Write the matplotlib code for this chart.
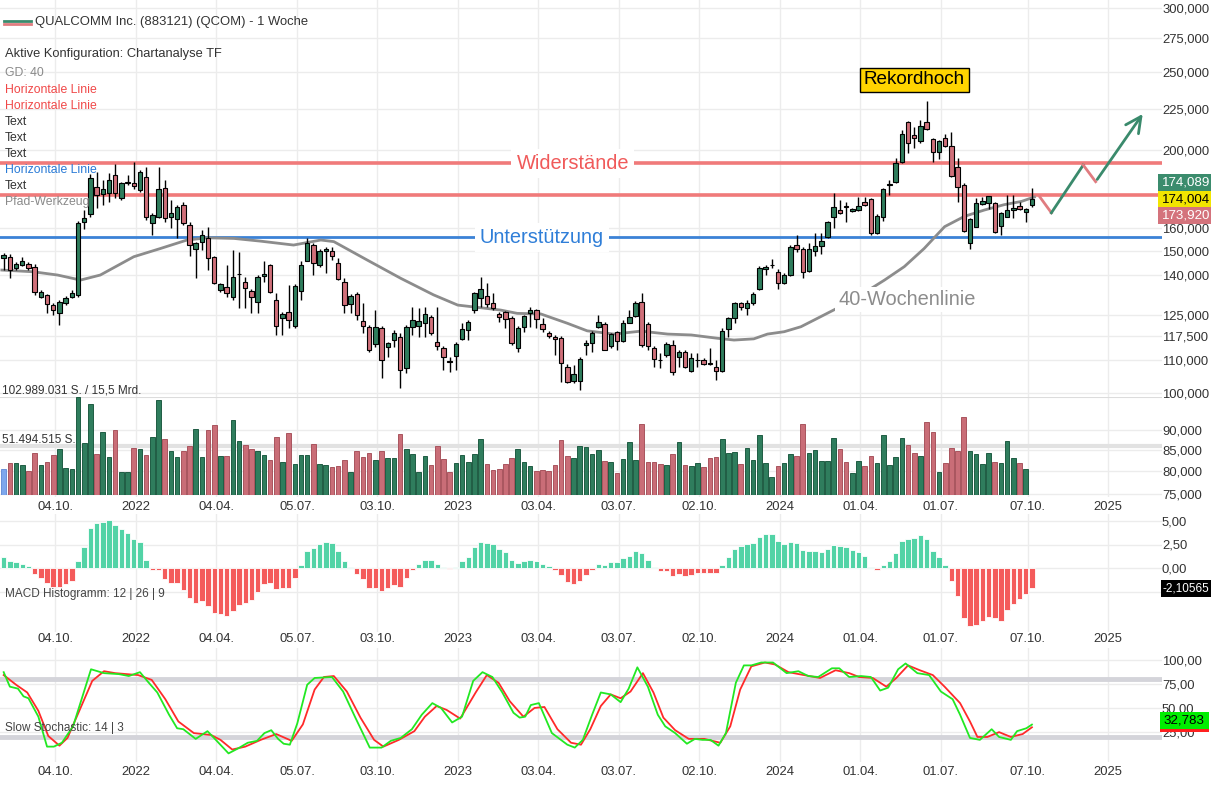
import numpy as np
import matplotlib
matplotlib.use("Agg")
import matplotlib.pyplot as plt
import matplotlib.dates as mdates
from matplotlib.patches import Rectangle
from matplotlib.lines import Line2D
from datetime import date, timedelta

plt.rcParams['font.family'] = ['Liberation Sans', 'DejaVu Sans']

# ---------------- DATA ----------------
first_week = date(2021, 8, 7)          # position of first weekly candle
opens = [146.9,147.4,142.7,144.1,144.5,143.4,131.4,132.3,128.5,125.6,129.2,131.6,132.3,163.0,166.6,180.1,176.4,177.0,186.2,174.5,
         182.0,182.2,178.4,185.1,162.3,165.2,179.3,165.2,164.2,171.0,161.5,150.7,154.0,155.5,147.3,134.1,135.2,131.6,140.3,137.4,
         133.8,129.8,139.6,144.0,130.4,123.8,125.9,121.0,133.8,145.9,152.6,144.0,150.0,150.1,144.8,137.1,128.9,132.5,122.9,120.8,
         114.9,120.3,113.9,116.3,117.4,107.3,120.6,121.0,122.0,124.1,115.5,113.6,109.6,111.2,116.5,119.7,126.7,131.0,131.9,129.1,
         125.2,125.9,123.7,113.6,120.8,125.7,126.7,121.6,118.6,117.4,116.9,107.8,103.6,103.6,114.7,115.2,120.8,121.8,114.4,118.9,
         116.1,122.2,124.5,129.7,121.6,113.6,110.0,111.4,114.6,110.9,112.5,106.6,109.8,109.9,108.9,107.6,106.6,119.9,123.7,129.1,
         127.3,129.1,134.4,142.5,144.0,141.3,136.7,140.0,152.4,150.7,141.6,150.1,152.1,156.2,165.0,168.4,170.3,167.9,168.4,172.2,
         173.7,157.9,165.0,181.2,182.6,193.2,216.7,208.7,204.9,216.7,206.2,198.8,206.7,202.2,190.4,181.0,153.2,160.5,171.3,171.8,
         171.8,161.0,165.4,168.5,170.6,167.4,171.0]
highs = [149.0,148.5,145.2,147.4,145.5,144.5,134.0,132.8,129.2,130.5,132.0,134.0,163.5,168.5,187.0,188.0,183.6,187.1,192.2,182.5,
         186.2,193.4,189.0,190.7,167.0,190.7,183.6,173.4,171.0,172.6,163.0,154.0,159.2,160.7,147.8,137.0,144.1,150.4,149.7,139.3,
         134.5,140.0,145.6,144.5,132.9,126.1,136.1,136.5,145.6,155.5,153.2,150.8,151.7,151.7,146.9,138.7,132.5,133.5,129.1,121.5,
         126.7,121.0,115.8,119.7,118.5,121.5,127.9,127.3,127.9,124.8,127.9,114.2,110.9,115.5,122.2,123.1,133.5,139.3,136.7,132.9,
         126.1,126.5,124.5,121.0,125.0,127.9,127.2,123.7,119.2,118.0,117.5,108.6,108.3,110.9,116.3,119.2,124.9,122.3,118.8,119.5,
         123.1,126.7,130.0,132.9,122.3,114.2,112.2,115.8,116.3,113.0,113.0,112.0,112.2,110.5,113.6,109.9,120.3,124.3,129.8,129.7,
         130.4,133.5,143.5,144.1,146.4,142.5,141.0,152.6,157.0,151.5,153.2,157.7,157.7,163.5,176.8,173.4,172.6,169.4,175.0,175.0,
         174.5,166.5,179.5,183.6,195.4,211.7,217.5,213.8,217.8,230.0,207.0,206.0,209.6,210.8,195.4,181.9,164.6,174.3,175.0,175.5,
         172.5,167.5,175.9,175.9,172.6,169.6,179.2]
lows = [142.0,138.7,142.0,143.5,142.0,132.3,131.0,125.5,124.9,121.4,128.5,131.0,131.5,159.6,165.0,169.4,171.0,172.3,174.5,173.4,
        181.0,179.1,177.5,163.8,157.0,164.6,163.0,160.0,155.5,161.5,147.6,138.7,150.4,142.0,136.5,133.5,131.6,130.4,127.3,127.3,
        125.5,125.5,137.4,132.9,118.0,118.0,120.3,120.3,130.4,145.6,140.0,143.4,140.8,146.1,138.0,125.5,125.5,123.1,118.5,112.5,
        114.1,104.3,110.9,114.1,101.5,105.8,118.0,117.4,117.4,118.0,113.0,106.8,106.3,106.8,116.3,116.3,125.5,127.9,127.9,126.7,
        122.3,120.3,114.7,112.5,119.1,120.8,120.3,119.1,116.9,111.4,103.3,102.8,102.8,100.9,111.4,112.5,120.3,113.0,113.6,113.0,
        115.7,122.0,124.3,114.0,113.0,107.8,107.3,110.9,105.3,107.8,107.3,106.3,107.8,108.3,108.3,103.8,106.3,117.4,122.2,126.7,
        124.9,128.5,134.1,140.0,142.7,134.4,136.5,139.5,149.7,138.7,141.3,147.6,148.7,155.5,160.0,166.6,163.0,167.4,168.0,170.3,
        157.0,157.5,163.3,175.9,182.2,192.8,198.1,201.0,204.1,211.7,193.2,195.0,201.8,185.4,172.6,158.1,150.7,160.5,171.0,169.0,
        158.0,157.0,165.0,164.6,168.5,163.0,170.0]
closes = [148.3,142.0,144.5,145.6,142.7,133.5,133.3,128.9,126.7,129.8,131.0,132.9,162.3,164.6,184.5,175.9,178.8,183.6,177.0,181.9,
          182.3,180.5,188.0,165.0,166.2,178.8,164.6,167.0,170.2,162.3,152.6,153.2,157.0,146.9,136.7,136.4,132.9,139.1,140.6,135.0,
          131.4,139.3,140.6,133.5,121.0,125.1,123.3,135.7,144.1,153.2,144.8,150.1,150.7,147.6,138.3,128.5,131.9,124.9,121.0,113.0,
          120.6,109.9,115.2,118.8,106.8,120.8,123.3,122.9,125.2,118.8,114.4,110.7,109.3,115.0,119.9,122.3,132.9,134.5,128.8,127.6,
          124.1,123.5,115.2,120.3,124.5,126.7,123.4,119.9,117.7,116.6,108.9,103.3,105.5,110.1,115.2,118.8,122.3,113.2,118.2,116.0,
          122.0,124.1,129.1,114.7,114.4,110.1,109.8,114.9,106.2,112.5,107.6,110.6,110.0,108.6,108.6,106.5,119.3,123.7,129.1,127.9,
          129.1,132.6,142.7,143.4,144.1,136.7,140.0,151.6,150.7,141.3,150.7,152.1,154.4,162.8,169.9,167.1,170.0,169.0,170.6,171.0,
          157.7,165.8,178.8,181.6,192.9,209.6,204.1,206.7,214.3,212.3,198.8,205.4,202.2,185.9,179.8,158.6,164.1,171.8,172.9,175.3,
          158.3,167.0,168.5,169.6,169.0,169.2,174.09]
volume_mio = [27.0,33.3,33.3,31.5,25.5,44.5,31.5,35.0,42.0,48.3,28.0,27.0,103.0,54.3,95.6,43.0,66.5,40.3,68.3,24.5,
              24.5,49.0,48.3,42.0,60.6,99.8,58.9,46.6,39.6,46.6,51.5,69.4,40.3,68.3,73.6,41.0,41.0,78.8,57.0,52.5,
              48.3,46.6,42.0,36.8,61.3,35.0,65.5,32.6,42.0,42.0,53.6,32.2,31.5,29.0,30.5,36.8,24.5,46.2,40.3,43.8,
              36.8,46.2,38.5,39.2,63.7,48.0,42.8,24.0,40.7,31.3,51.5,37.6,24.0,33.7,41.7,34.8,42.8,58.8,32.7,26.4,
              27.8,32.4,38.6,48.7,34.4,31.0,25.7,26.4,25.7,31.3,58.1,40.7,39.3,51.5,50.1,42.8,47.0,35.8,34.8,22.6,
              38.3,55.7,36.5,74.1,34.4,34.4,33.1,31.3,42.8,55.7,32.0,30.3,33.7,28.9,39.3,40.0,59.1,44.5,45.2,32.4,
              49.1,36.5,62.6,34.1,18.8,30.3,33.4,43.5,40.7,74.4,44.5,47.7,36.2,36.2,59.8,48.7,34.4,23.0,36.2,30.6,
              40.7,34.1,63.0,31.3,39.7,60.2,52.9,44.2,41.1,76.2,65.8,24.0,33.4,49.1,45.9,82.4,45.9,43.1,33.1,44.2,
              34.8,34.1,56.7,39.3,34.1,26.8]
macd_hist = [1.15,0.73,0.63,0.42,0.2,-0.6,-1.04,-1.63,-1.98,-1.98,-1.74,-1.39,0.73,2.19,4.27,4.79,4.9,5.07,4.62,4.17,
             3.75,3.06,2.78,0.9,-0.17,-0.17,-1.2,-1.63,-1.63,-2.33,-3.2,-3.72,-3.47,-4.06,-4.76,-4.93,-5.1,-4.58,-3.96,-3.72,
             -3.37,-2.6,-1.74,-1.63,-2.22,-2.15,-2.08,-1.04,0.28,1.77,2.08,2.6,2.81,2.7,1.84,0.73,0.14,-0.59,-1.22,-2.08,
             -2.08,-2.43,-2.15,-1.8,-1.98,-1.04,-0.2,0.42,0.9,0.8,0.45,0.1,-0.1,0.14,0.7,1.15,2.19,2.78,2.71,2.53,
             2.01,1.74,0.8,0.56,0.7,0.9,0.73,0.42,0.17,-0.17,-0.7,-1.46,-1.74,-1.39,-0.76,-0.17,0.45,0.35,0.63,0.63,
             1.04,1.32,1.84,1.6,0.83,0.1,-0.35,-0.28,-0.83,-0.63,-0.83,-0.7,-0.49,-0.49,-0.49,-0.49,0.28,1.15,2.01,2.29,
             2.53,2.71,3.3,3.58,3.65,2.88,2.53,2.78,2.71,1.94,1.84,1.77,1.67,2.01,2.5,2.36,2.26,1.94,1.74,1.32,
             0.1,-0.24,0.28,0.73,1.56,2.88,3.13,3.23,3.47,3.13,1.77,1.15,0.31,-1.39,-3.02,-5.28,-6.15,-6.08,-5.69,-5.2,
             -5.28,-5.69,-4.51,-3.82,-3.26,-2.78,-2.11]
# 40-week moving average, read at points (candle index, value)
sma_idx = [-0.3,4.8,8.7,12.4,15.6,21,25.3,29.6,32.9,37.2,41.5,46.8,51.2,53.3,58.7,64.1,69.4,73.3,80.2,82.9,86.7,91,94.2,
           98.5,102.9,107.2,111,115.2,117.9,121.1,123.3,126,128.7,130.8,134.6,138.4,142.2,145.4,148.6,151.9,155.1,158.3,161.5,164.3,166.4]
sma_val = [142,141.3,140.0,138.0,140,147.5,151,154.7,155.7,155.4,154.2,152.5,154.7,154,146.1,138.7,132.3,128.5,126.7,125.5,125.3,122,119.4,
           118.3,119.3,118.3,118,116.9,116.3,116.7,118.3,119.1,120.8,123.1,127.4,132.3,138,143.4,151,160.7,165.5,168.5,171.1,172.7,174.9]
# slow stochastic, read at points (candle index, value)
stk_idx = [0,1,2.3,3.2,4,5.6,7,8.1,9.4,11.2,14.1,16.2,18.6,20.2,22,23.3,24.8,26.7,28,29,31,32.9,34.1,36.3,37.8,39.4,40.9,42.1,43.2,
           44.3,45.2,46.2,47.4,49,50.2,53,54.8,56.7,59.1,61,62.5,64.1,65.9,67.5,69.2,70.6,72.4,74,75.8,77.3,78.9,80.5,82.3,83.3,84.2,
           85.1,86.4,88.5,91,92.2,93.5,95,96.4,98,99.6,100.9,102.3,104,105.6,106.8,108.4,110.3,111.6,112.8,114.1,115.4,116.6,118.2,
           119.5,120.7,122.3,124.2,126.4,128.3,129.9,131.5,133.7,134.9,136.5,138.4,140,141.5,142.8,144.4,145.6,147.5,149.4,151.3,
           153.2,154.4,156,157.6,159.5,160.7,162.6,163.6,165.1,166]
stk_val = [87,72,70,62,60,41,10,10,14,31,90,86,85,83,87,77,66,43,29,28,18,26,18,3,8,14,16,24,27,
           18,13,12,34,74,81,82,67,41,9,9,16,19,28,43,55,50,35,41,78,87,82,66,45,40,41,
           53,55,24,12,9,17,43,66,64,56,70,92,72,43,31,24,13,18,17,17,11,24,76,
           94,94,97,97,86,88,83,82,91,91,82,83,82,68,71,90,96,86,84,67,
           59,43,19,17,28,20,17,26,29,32.8]
std_idx = [0,2,3.8,5.6,7.2,9,10.3,11.8,14.3,16.2,18,21.7,23.9,26.1,28.2,30.7,33.5,35,36.9,39,41.5,44,46.5,48.3,50.2,51.7,
           53.3,55.4,57.6,59.8,61.3,63.8,66.3,68,69.9,71.5,73.7,76.2,78,79.9,81.7,83.9,85.7,87.3,89.4,91.6,93.2,94.7,96.4,98,
           99.6,101.2,103.2,104.9,106.5,108.4,110.6,113.1,115.7,117.3,118.9,120.7,122.9,124.5,126.7,129.2,131.8,134.3,136.5,138.1,
           140.3,142.5,144.1,146,147.9,150,151.9,154.4,156,157.2,158.8,160.7,162.6,164.5,166]
std_val = [84,74,66,47,21,11,19,41,78,88,86,84,79,59,36,24,22,17,7,10,17,23,16,33,69,82,
           83,67,40,17,10,17,26,41,52,48,39,66,84,76,57,41,50,51,28,14,12,28,52,64,
           60,67,86,66,40,27,18,18,14,31,69,93,97,95,87,84,81,89,86,82,
           81,72,81,94,89,84,72,55,36,20,20,25,20,23,30]
# drawn path (Pfad-Werkzeug)
path_dates = [date(2024, 10, 21), date(2024, 11, 3), date(2024, 12, 9), date(2024, 12, 23), date(2025, 2, 16)]
path_prices = [174.9, 167.2, 191.6, 182.7, 223.1]
resistances = [192.6, 175.9]
support = 155.9
tick_dates = [date(2021,10,4), date(2022,1,3), date(2022,4,4), date(2022,7,5), date(2022,10,3), date(2023,1,2),
              date(2023,4,3), date(2023,7,3), date(2023,10,2), date(2024,1,1), date(2024,4,1), date(2024,7,1),
              date(2024,10,7), date(2025,1,6)]
tick_labels = ['04.10.', '2022', '04.04.', '05.07.', '03.10.', '2023', '03.04.', '03.07.', '02.10.', '2024',
               '01.04.', '01.07.', '07.10.', '2025']
price_ticks = [75, 80, 85, 90, 100, 110, 117.5, 125, 140, 150, 160, 200, 225, 250, 275, 300]
macd_ticks = [-2.5, 0, 2.5, 5.0]
stoch_ticks = [25, 50, 75, 100]
vol_max = 102.989031

# ---------------- FIGURE ----------------
W, H = 1211, 786
fig = plt.figure(figsize=(W / 100, H / 100), dpi=100)
fig.patch.set_facecolor('white')

def ax_at(left, top, right, bottom):
    return fig.add_axes([left / W, 1 - bottom / H, (right - left) / W, (bottom - top) / H])

def fx(x):
    return x / W

def fy(y):
    return 1 - y / H

n = len(closes)
dn = np.array([mdates.date2num(first_week + timedelta(days=7 * i)) for i in range(n)])
d_origin = mdates.date2num(first_week)
ppd = (1027.5 - 55) / (date(2024, 10, 7) - date(2021, 10, 4)).days
x_anchor = mdates.date2num(date(2021, 10, 4))
xlim = (x_anchor - 55 / ppd, x_anchor + (1162 - 55) / ppd)
tnum = [mdates.date2num(t) for t in tick_dates]

TXT = '#333333'
GRID = '#ececec'
FS = 9.4

def style(ax, labels, yticks, label_pad):
    ax.set_xlim(*xlim)
    for s in ax.spines.values():
        s.set_visible(False)
    ax.set_xticks(tnum)
    ax.set_xticklabels(tick_labels)
    ax.tick_params(axis='x', length=0, pad=label_pad, labelsize=FS, colors=TXT)
    ax.yaxis.tick_right()
    ax.set_yticks(yticks)
    ax.set_yticklabels(labels)
    ax.minorticks_off()
    ax.tick_params(axis='y', length=0, pad=0, labelsize=FS, colors=TXT)
    ax.grid(True, color=GRID, lw=1)
    ax.set_axisbelow(True)

# ---- price panel ----
ax = ax_at(0, 0, 1162, 497)
ax.set_yscale('log')
ax.set_ylim(100 * np.exp(-104 / 350.6), 100 * np.exp(393 / 350.6))
style(ax, [f"{v:.3f}".replace('.', ',') for v in price_ticks], price_ticks, 3)

o = np.array(opens); c = np.array(closes); hi = np.array(highs); lo = np.array(lows)
up = c >= o
GREEN = '#2f7d5d'
RED = '#d0707a'
ax.vlines(dn, lo, hi, color='black', lw=1, zorder=3)
bottoms = np.minimum(o, c)
heights = np.maximum(np.abs(c - o), 0.15)
ax.bar(dn, heights, bottom=bottoms, width=5.0, color=np.where(up, GREEN, RED),
       edgecolor='black', lw=0.8, zorder=4)

sma_d = d_origin + 7 * np.array(sma_idx)
ax.plot(sma_d, sma_val, color='#8c8c8c', lw=2, zorder=2.5)

for r in resistances:
    ax.axhline(r, color='#f07a7a', lw=2.6, zorder=2)
ax.axhline(support, color='#3b82d6', lw=2, zorder=2)

pd_ = [mdates.date2num(d) for d in path_dates]
ax.plot(pd_[0:2], path_prices[0:2], color='#e07c80', lw=2, zorder=5)
ax.plot(pd_[1:3], path_prices[1:3], color='#3a8a6c', lw=2, zorder=5)
ax.plot(pd_[2:4], path_prices[2:4], color='#e07c80', lw=2, zorder=5)
ax.annotate('', xy=(pd_[4], path_prices[4]), xytext=(pd_[3], path_prices[3]),
            arrowprops=dict(arrowstyle='->', color='#3a8a6c', lw=2, mutation_scale=28), zorder=5)

ax.text(mdates.date2num(date(2023, 5, 12)), resistances[0], 'Widerstände', color='#f05a5a', fontsize=14.4,
        ha='center', va='center', zorder=6,
        bbox=dict(boxstyle='square,pad=0.25', fc='white', ec='none'))
ax.text(mdates.date2num(date(2023, 4, 7)), support, 'Unterstützung', color='#2f7ed8', fontsize=14.4,
        ha='center', va='center', zorder=6,
        bbox=dict(boxstyle='square,pad=0.25', fc='white', ec='none'))
ax.text(mdates.date2num(date(2024, 5, 24)), 130.7, '40-Wochenlinie', color='#8c8c8c', fontsize=14.4,
        ha='center', va='center', zorder=6,
        bbox=dict(boxstyle='square,pad=0.15', fc='white', ec='none'))
ax.text(mdates.date2num(date(2024, 6, 1)), 244.2, 'Rekordhoch', color='black', fontsize=13.6,
        ha='center', va='center', zorder=6,
        bbox=dict(boxstyle='square,pad=0.2', fc='#ffd400', ec='black', lw=1))

# ---- volume overlay ----
axv = ax_at(0, 397, 1162, 495)
axv.patch.set_visible(False)
axv.set_xlim(*xlim)
axv.set_ylim(0, vol_max)
axv.axis('off')
nv = len(volume_mio)
vcol = ['#2f7d5d' if up[i] else '#c96d77' for i in range(nv)]
vedge = ['#1f5c43' if up[i] else '#a9545e' for i in range(nv)]
vcol[0] = '#7ea7ec'; vedge[0] = '#6a90d8'
axv.bar(dn[:nv], volume_mio, width=5.2, color=vcol, edgecolor=vedge, lw=0.7, zorder=3)
axv.axhline(vol_max, color='#dcdcdc', lw=1.5, zorder=1)
axv.axhline(vol_max / 2, color='#e2e2e2', lw=3, zorder=1)

# ---- MACD ----
axm = ax_at(0, 514, 1162, 632)
axm.set_ylim(-(632 - 568) / 9.4, (568 - 514) / 9.4)
# the -2,50 label sits behind the current-value box, so it is left blank
style(axm, ['' if v < 0 else f"{v:.2f}".replace('.', ',') for v in macd_ticks], macd_ticks, 1)
mh = np.array(macd_hist)
axm.bar(dn, mh, width=6.2, color=np.where(mh >= 0, '#52d3a6', '#f45b5b'), edgecolor='white', lw=0.6, zorder=3)

# ---- Slow stochastic ----
axs = ax_at(0, 648, 1162, 762)
axs.set_ylim(-(762 - 756.3) / 0.967, (756.3 - 648) / 0.967)
style(axs, [f"{v:.2f}".replace('.', ',') for v in stoch_ticks], stoch_ticks, 3)
axs.axhline(80, color='#d4d4da', lw=3.5, zorder=2)
axs.axhline(20, color='#d4d4da', lw=3.5, zorder=2)
axs.plot(d_origin + 7 * np.array(std_idx), std_val, color='#ff2a2a', lw=1.3, zorder=4)
axs.plot(d_origin + 7 * np.array(stk_idx), stk_val, color='#22e822', lw=1.3, zorder=5)

# ---- texts / legend ----
fig.add_artist(Line2D([fx(4), fx(31)], [fy(20.5), fy(20.5)], color='#3a8a6c', lw=2))
fig.add_artist(Line2D([fx(4), fx(31)], [fy(24), fy(24)], color='#e07c80', lw=2))
fig.text(fx(35), fy(22.5), 'QUALCOMM Inc. (883121) (QCOM) - 1 Woche', fontsize=9.4, color=TXT, va='center')
fig.text(fx(5), fy(53.5), 'Aktive Konfiguration: Chartanalyse TF', fontsize=9.3, color=TXT, va='center', zorder=7)
legend_rows = [('GD: 40', '#8a8a8a', 73.5),
               ('Horizontale Linie', '#f04848', 90), ('Horizontale Linie', '#f04848', 106),
               ('Text', TXT, 122), ('Text', TXT, 138), ('Text', TXT, 154),
               ('Horizontale Linie', '#2a7bd6', 170), ('Text', TXT, 186), ('Pfad-Werkzeug', '#8a8a8a', 202)]
for s, col, y in legend_rows:
    fig.text(fx(5), fy(y), s, fontsize=8.8, color=col, va='center', zorder=7)
fig.text(fx(2), fy(390), '102.989.031 S. / 15,5 Mrd.', fontsize=8.5, color=TXT, va='center')
fig.text(fx(2), fy(440), '51.494.515 S.', fontsize=8.5, color=TXT, va='center')
fig.text(fx(5), fy(594), 'MACD Histogramm: 12 | 26 | 9', fontsize=8.5, color='#444444', va='center')
fig.text(fx(5), fy(728), 'Slow Stochastic: 14 | 3', fontsize=8.5, color='#444444', va='center')

def value_box(x0, y0, x1, y1, fc, s, tc, tx=4, fs=9.6):
    fig.add_artist(Rectangle((fx(x0), fy(y1)), fx(x1) - fx(x0), fy(y0) - fy(y1),
                             transform=fig.transFigure, fc=fc, ec='none', zorder=8))
    fig.text(fx(x0 + tx), fy((y0 + y1) / 2), s, color=tc, fontsize=fs, va='center', zorder=9)

value_box(1158, 174, 1211, 191, '#3b8c6d', '174,089', 'white')
value_box(1158, 191, 1211, 207, '#f2e500', '174,004', 'black')
value_box(1158, 207, 1211, 224, '#d4737c', '173,920', 'white')
value_box(1161, 580, 1211, 597, 'black', '-2,10565', 'white', tx=1.5, fs=8.5)
fig.add_artist(Rectangle((fx(1160), fy(732)), fx(1209) - fx(1160), fy(729) - fy(732),
                         transform=fig.transFigure, fc='#ff2020', ec='none', zorder=8))
value_box(1160, 712, 1209, 729, '#00ee00', '32,783', 'black')

fig.savefig('out.png', dpi=100, facecolor='white')
